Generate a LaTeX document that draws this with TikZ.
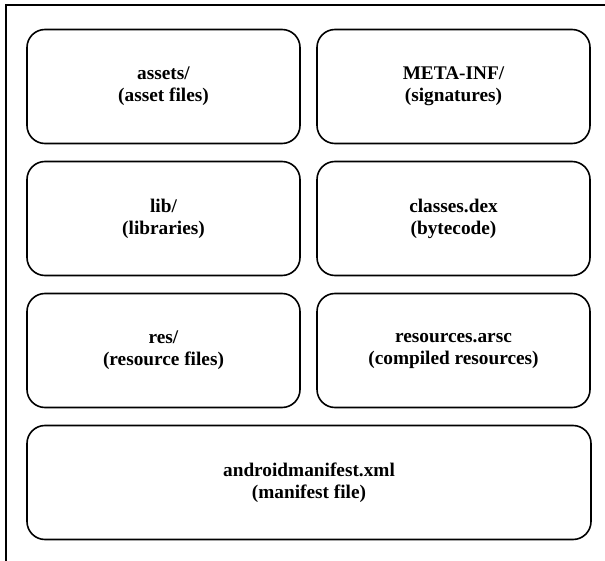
\documentclass[tikz,border=0pt]{standalone}
\usepackage{fontspec}
\setmainfont{Liberation Serif}
\usepackage{tikz}
\usetikzlibrary{positioning}

\begin{document}
\begin{tikzpicture}[
  pkgbox/.style={draw, line width=1.6pt, rounded corners=18pt, outer sep=0pt,
                 minimum width=273pt, minimum height=114pt,
                 align=center, font=\bfseries\fontsize{19.3}{22}\selectfont},
  node distance=18pt and 17pt]

\useasboundingbox (0pt,0pt) rectangle (605pt,-561pt);

% Outer frame
\draw[line width=1.6pt] (6pt,-640pt) -- (6pt,-5pt) -- (680pt,-5pt);

% Boxes
\node[pkgbox] (assets) at (163.5pt,-86.5pt) {assets/\\(asset files)};
\node[pkgbox, right=of assets] (metainf) {META-INF/\\(signatures)};

\node[pkgbox, below=of assets] (lib) {lib/\\(libraries)};
\node[pkgbox, right=of lib] (classes) {classes.dex\\(bytecode)};

\node[pkgbox, below=of lib] (res) {res/\\(resource files)};
\node[pkgbox, right=of res] (arsc) {resources.arsc\\(compiled resources)};

\node[pkgbox, minimum width=564pt, below=of res.south west, anchor=north west]
  (manifest) {androidmanifest.xml\\(manifest file)};

\end{tikzpicture}
\end{document}
